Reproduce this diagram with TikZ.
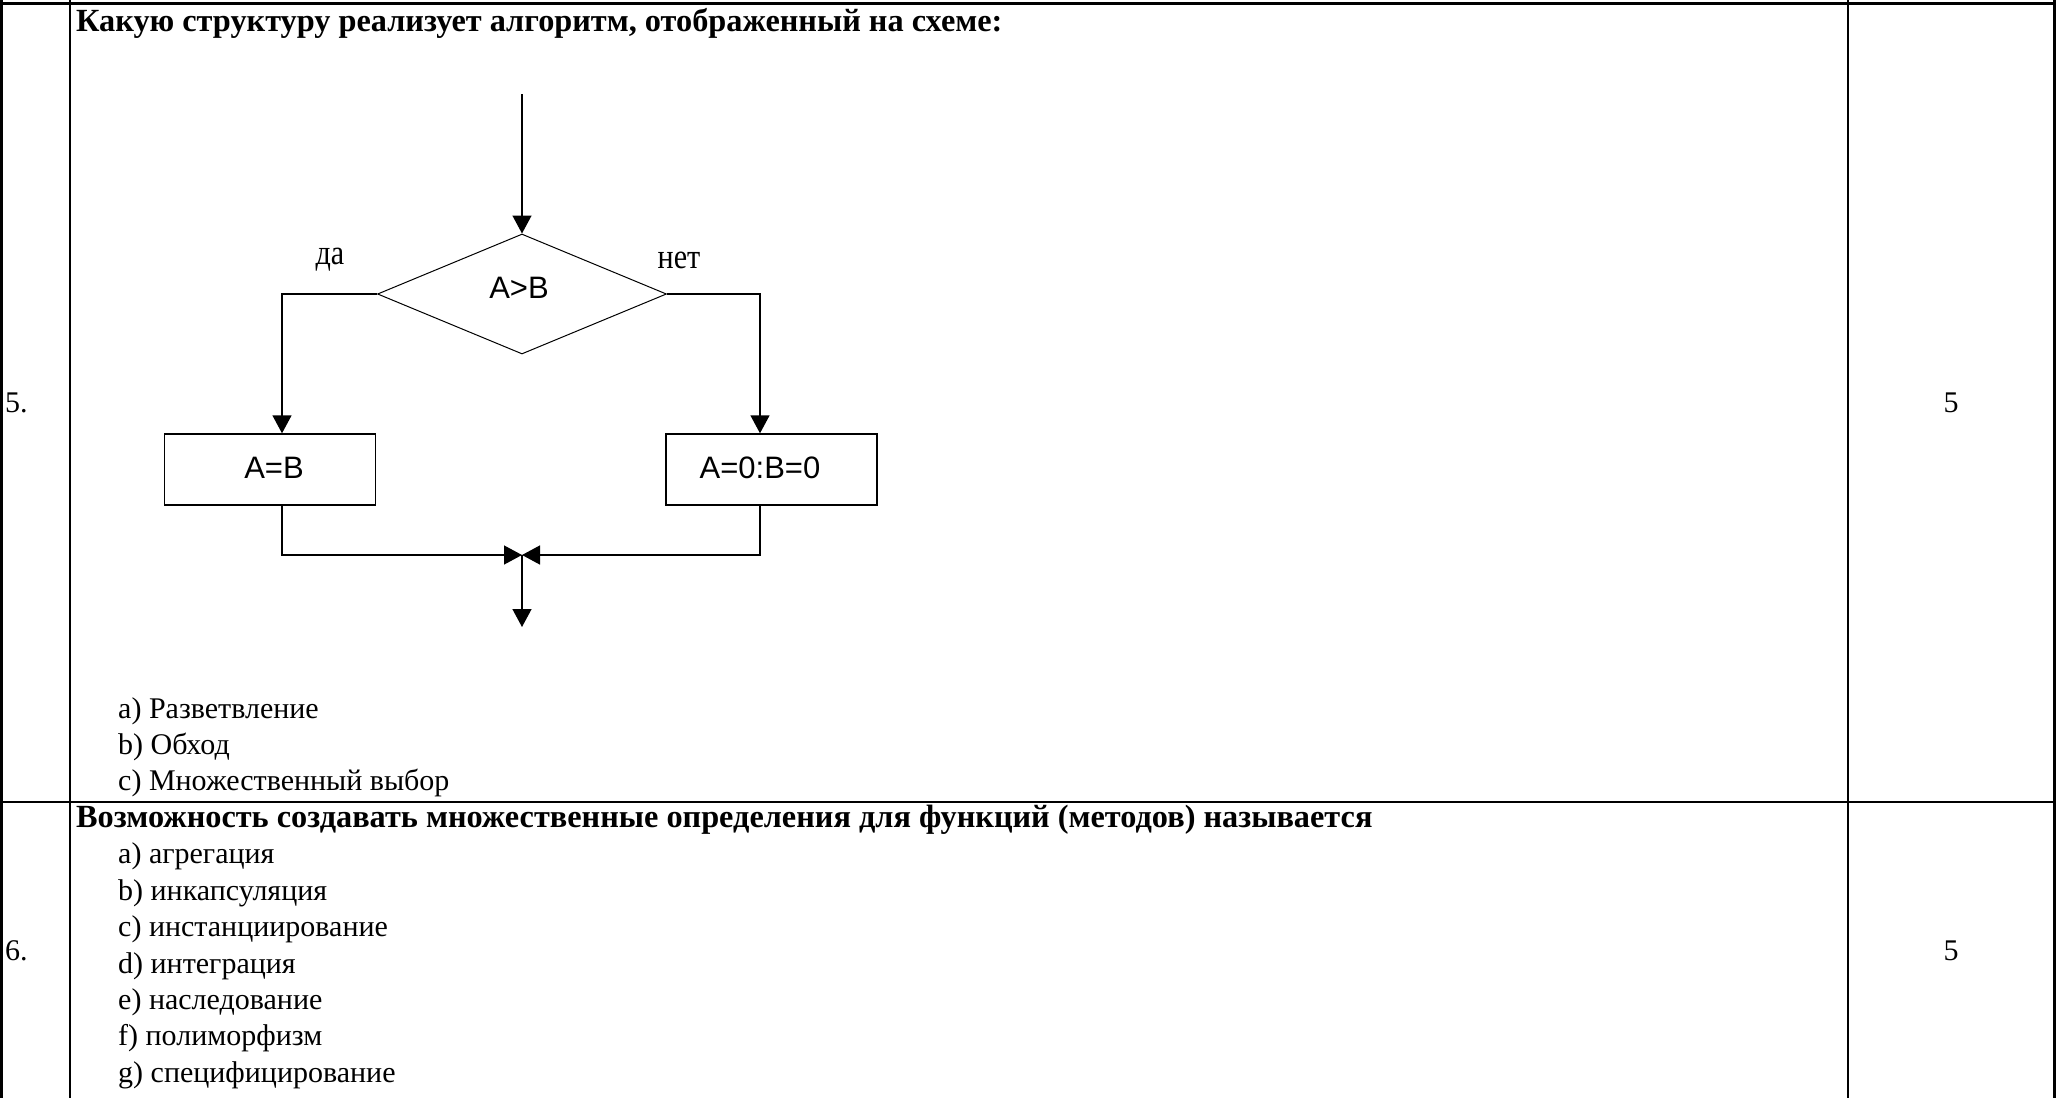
\documentclass[tikz,border=0pt]{standalone}
\usepackage{fontspec}
\setmainfont{Liberation Serif}
\newfontfamily\flowfont{Liberation Sans}
\usetikzlibrary{arrows.meta,shapes.geometric}
\begin{document}
\begin{tikzpicture}[x=1pt,y=-1pt,
  tline/.style={line width=2.8pt},
  body/.style={anchor=west, inner sep=0pt, font=\fontsize{30}{36}\selectfont, text height=20pt, text depth=7pt},
  bodyb/.style={anchor=west, inner sep=0pt, font=\fontsize{32.3}{36}\selectfont\bfseries, text height=21pt, text depth=7.5pt},
  num/.style={anchor=center, inner sep=0pt, font=\fontsize{30}{36}\selectfont, text height=20pt, text depth=7pt},
  fl/.style={line width=1.4pt},
  arr/.style={fl, -{Triangle[width=19pt,length=18pt]}},
  fbox/.style={draw, line width=1.4pt, minimum width=211pt, minimum height=71pt, inner sep=0pt},
  ftext/.style={inner sep=0pt, font=\flowfont\fontsize{31}{34}\selectfont},
  flab/.style={inner sep=0pt, font=\fontsize{35}{38}\selectfont}
]
\useasboundingbox (0,0) rectangle (2056,1098);
\fill[white] (0,0) rectangle (2056,1098);

% table
\draw[tline] (0,3.5) -- (2056,3.5);
\draw[tline] (1.4,0) -- (1.4,1098);
\draw[tline] (70,0) -- (70,1098);
\draw[tline] (1848,0) -- (1848,1098);
\draw[tline] (2054.6,0) -- (2054.6,1098);
\draw[tline] (0,802) -- (2056,802);

% row 5
\node[body] (n5) at (5,406) {5.};
\node[num] (p5) at (1951,406) {5};
\node[bodyb] (q5) at (76,25) {Какую структуру реализует алгоритм, отображенный на схеме:};
\node[body] (a5) at (118,712) {a) Разветвление};
\node[body] (b5) at (118,748) {b) Обход};
\node[body] (c5) at (118,784) {c) Множественный выбор};

% row 6
\node[body] (n6) at (5,954) {6.};
\node[num] (p6) at (1951,954) {5};
\node[bodyb] (q6) at (76,821) {Возможность создавать множественные определения для функций (методов) называется};
\node[body] (a6) at (118,857.4) {a) агрегация};
\node[body] (b6) at (118,893.8) {b) инкапсуляция};
\node[body] (c6) at (118,930.2) {c) инстанциирование};
\node[body] (d6) at (118,966.6) {d) интеграция};
\node[body] (e6) at (118,1003) {e) наследование};
\node[body] (f6) at (118,1039.4) {f) полиморфизм};
\node[body] (g6) at (118,1075.8) {g) специфицирование};

% flowchart
\coordinate (start) at (522,94);
\node[diamond, draw, line width=1pt, minimum width=289pt, minimum height=120pt, inner sep=0pt] (dec) at (522,294) {};
\node[ftext] (dect) at (519,288) {A>B};
\node[fbox] (boxL) at (270,469.5) {};
\node[ftext] (boxLt) at (274,468) {A=B};
\node[fbox] (boxR) at (771.5,469.5) {};
\node[ftext] (boxRt) at (760,468) {A=0:B=0};
\node[flab] (yes) at (330,260) {\scalebox{0.86}[1]{да}};
\node[flab] (no) at (679,260) {\scalebox{0.86}[1]{нет}};
\coordinate (join) at (522,555);
\coordinate (stop) at (522,627);

\draw[arr] (start) -- (dec.north);
\draw[arr] (dec.west) -| ([xshift=12pt]boxL.north);
\draw[arr] (dec.east) -| ([xshift=-11.5pt]boxR.north);
\draw[arr] ([xshift=12pt]boxL.south) |- (join);
\draw[arr] ([xshift=-11.5pt]boxR.south) |- (join);
\draw[arr] (join) -- (stop);
\end{tikzpicture}
\end{document}
